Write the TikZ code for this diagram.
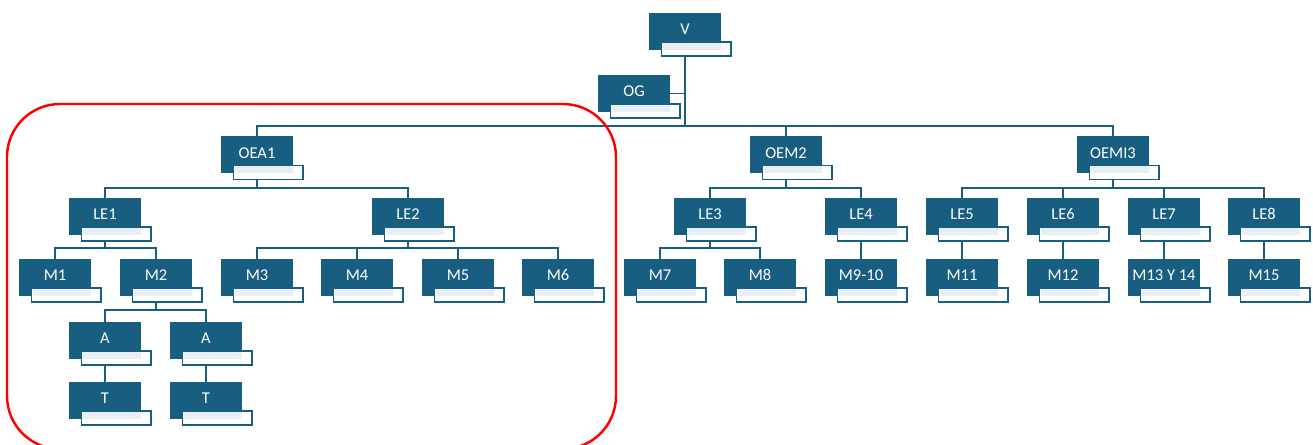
\documentclass[tikz,border=0pt]{standalone}
\usepackage{fontspec}
\setmainfont{Carlito}
\usetikzlibrary{backgrounds}

\definecolor{boxblue}{RGB}{24,94,128}
\definecolor{tabgray}{RGB}{232,238,243}

\tikzset{
  unit/.style={rectangle,fill=boxblue,text=white,minimum width=1.44cm,minimum height=0.74cm,
    inner sep=0pt,text height=6.5pt,text depth=2.8pt,font=\fontsize{9.4}{11}\selectfont},
  tab/.style={draw=boxblue,fill=white,line width=0.85pt},
  tabshade/.style={fill=tabgray},
  link/.style={draw=boxblue,line width=1.1pt},
}

% box with its little tab below
\newcommand{\orgbox}[4]{%
  \node[unit] (#1) at (#2,#3) {#4};
  \draw[tab] ([shift={(-23.5,10.5)}]#1.center) rectangle ([shift={(46,24.5)}]#1.center);
  \fill[tabshade] ([shift={(-22.5,11.5)}]#1.center) rectangle ([shift={(36,18.5)}]#1.center);
}

\begin{document}
\begin{tikzpicture}[x=0.02cm,y=-0.02cm]
    \useasboundingbox (0,0) rectangle (1313,445);

    % top
    \orgbox{V}{685}{31.5}{V}
    \orgbox{OG}{634}{93.5}{OG}

    % second level
    \orgbox{OEA1}{257}{155}{OEA1}
    \orgbox{OEM2}{786}{155}{OEM2}
    \orgbox{OEMI3}{1113}{155}{OEMI3}

    % LE row
    \orgbox{LE1}{105}{216.5}{LE1}
    \orgbox{LE2}{408}{216.5}{LE2}
    \orgbox{LE3}{710}{216.5}{LE3}
    \orgbox{LE4}{861}{216.5}{LE4}
    \orgbox{LE5}{962}{216.5}{LE5}
    \orgbox{LE6}{1063}{216.5}{LE6}
    \orgbox{LE7}{1164}{216.5}{LE7}
    \orgbox{LE8}{1264}{216.5}{LE8}

    % M row
    \orgbox{M1}{55}{277.5}{M1}
    \orgbox{M2}{156}{277.5}{M2}
    \orgbox{M3}{257}{277.5}{M3}
    \orgbox{M4}{357}{277.5}{M4}
    \orgbox{M5}{458}{277.5}{M5}
    \orgbox{M6}{558}{277.5}{M6}
    \orgbox{M7}{660}{277.5}{M7}
    \orgbox{M8}{760}{277.5}{M8}
    \orgbox{M910}{861}{277.5}{M9-10}
    \orgbox{M11}{962}{277.5}{M11}
    \orgbox{M12}{1063}{277.5}{M12}
    \orgbox{M13Y14}{1164}{277.5}{M13 Y 14}
    \orgbox{M15}{1264}{277.5}{M15}

    % A and T
    \orgbox{A1}{105}{340.5}{A}
    \orgbox{A2}{206}{340.5}{A}
    \orgbox{T1}{105}{400.5}{T}
    \orgbox{T2}{206}{400.5}{T}

    % connectors
    \begin{scope}[on background layer]
    \coordinate (bus0) at (0,126);
    \coordinate (bus1) at (0,188);
    \coordinate (bus2) at (0,248);
    \coordinate (bus3) at (0,310);
    \draw[link] (V.center) -- (V |- bus0);
    \draw[link] (OG.east) -- (OG.east -| V);
    \foreach \c in {OEA1,OEM2,OEMI3}
        \draw[link] (V |- bus0) -| (\c.north);
    \foreach \c in {LE1,LE2}
        \draw[link] (OEA1.center) |- (\c |- bus1) -- (\c.north);
    \foreach \c in {LE3,LE4}
        \draw[link] (OEM2.center) |- (\c |- bus1) -- (\c.north);
    \foreach \c in {LE5,LE6,LE7,LE8}
        \draw[link] (OEMI3.center) |- (\c |- bus1) -- (\c.north);
    \foreach \c in {M1,M2}
        \draw[link] (LE1.center) |- (\c |- bus2) -- (\c.north);
    \foreach \c in {M3,M4,M5,M6}
        \draw[link] (LE2.center) |- (\c |- bus2) -- (\c.north);
    \foreach \c in {M7,M8}
        \draw[link] (LE3.center) |- (\c |- bus2) -- (\c.north);
    \draw[link] (LE4.center) -- (M910.north);
    \draw[link] (LE5.center) -- (M11.north);
    \draw[link] (LE6.center) -- (M12.north);
    \draw[link] (LE7.center) -- (M13Y14.north);
    \draw[link] (LE8.center) -- (M15.north);
    \foreach \c in {A1,A2}
        \draw[link] (M2.center) |- (\c |- bus3) -- (\c.north);
    \draw[link] (A1.center) -- (T1.north);
    \draw[link] (A2.center) -- (T2.north);
    \end{scope}

    % highlight
    \draw[red,line width=1.4pt,rounded corners=1.06cm] (7,104) rectangle (616,449);
\end{tikzpicture}
\end{document}
